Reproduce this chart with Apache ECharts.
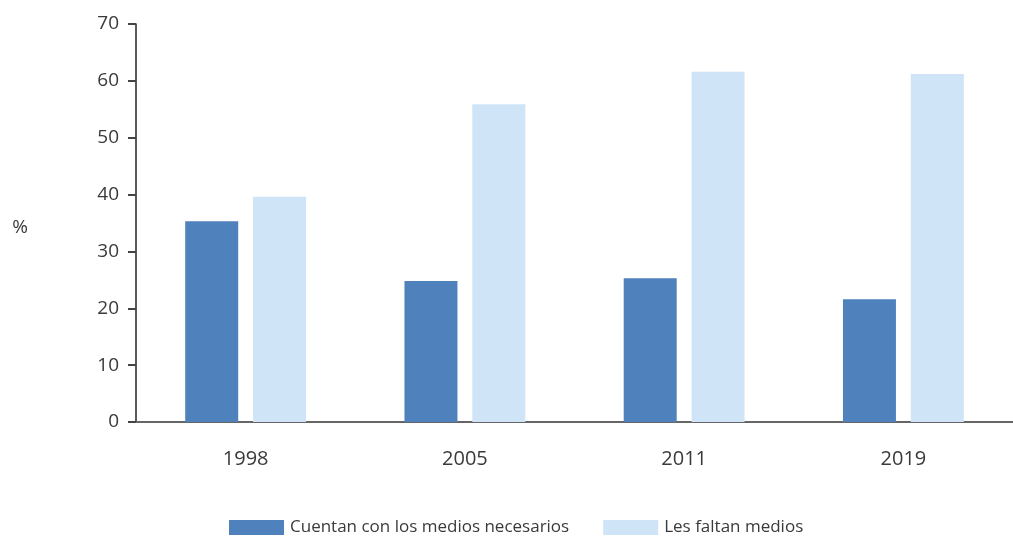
<!DOCTYPE html>
<html>
<head>
<meta charset="utf-8">
<script src="https://cdn.jsdelivr.net/npm/echarts@6/dist/echarts.min.js"></script>
<style>
  html, body { margin: 0; padding: 0; background: #fff; }
  #chart { width: 1013px; height: 537px; }
</style>
</head>
<body>
<div id="chart"></div>
<script>
const years = ['1998', '2005', '2011', '2019']
const seriesNames = ['Cuentan con los medios necesarios', 'Les faltan medios']
const cuentan = [35.3, 24.8, 25.3, 21.6]
const faltan = [39.6, 55.9, 61.6, 61.2]

const textColor = '#3a3a3a'
const font = '"Open Sans", Lato, sans-serif'

const chart = echarts.init(document.getElementById('chart'))

chart.setOption({
  animation: false,
  textStyle: { fontFamily: font },
  grid: { left: 136, right: 0, top: 24, bottom: 115 },
  legend: {
    bottom: -4,
    left: 224,
    itemWidth: 55,
    itemHeight: 15,
    itemGap: 34,
    icon: 'rect',
    textStyle: { color: textColor, fontSize: 17, fontFamily: font, padding: [0, 0, 0, 1] },
    data: seriesNames
  },
  xAxis: {
    type: 'category',
    data: years,
    axisLine: { lineStyle: { color: '#666', width: 2 } },
    axisTick: { alignWithLabel: true, length: 10, lineStyle: { color: '#222', width: 2 } },
    axisLabel: { color: textColor, fontSize: 20, margin: 27, fontFamily: font }
  },
  yAxis: {
    type: 'value',
    min: 0,
    max: 70,
    interval: 10,
    name: '%',
    nameLocation: 'middle',
    nameRotate: 0,
    nameGap: 108,
    nameTextStyle: { color: textColor, fontSize: 19, fontFamily: font, lineHeight: 10, verticalAlign: 'top' },
    axisLine: { show: true, lineStyle: { color: '#222', width: 1.5 } },
    axisTick: { show: true, length: 8, lineStyle: { color: '#444', width: 2 } },
    axisLabel: { color: textColor, fontSize: 19, margin: 17, fontFamily: font },
    splitLine: { show: false }
  },
  series: [
    {
      name: seriesNames[0],
      type: 'bar',
      data: cuentan,
      barWidth: 53,
      barGap: '28%',
      itemStyle: { color: '#4f81bd' }
    },
    {
      name: seriesNames[1],
      type: 'bar',
      data: faltan,
      barWidth: 53,
      itemStyle: { color: '#d0e4f7' }
    }
  ]
})
</script>
</body>
</html>
